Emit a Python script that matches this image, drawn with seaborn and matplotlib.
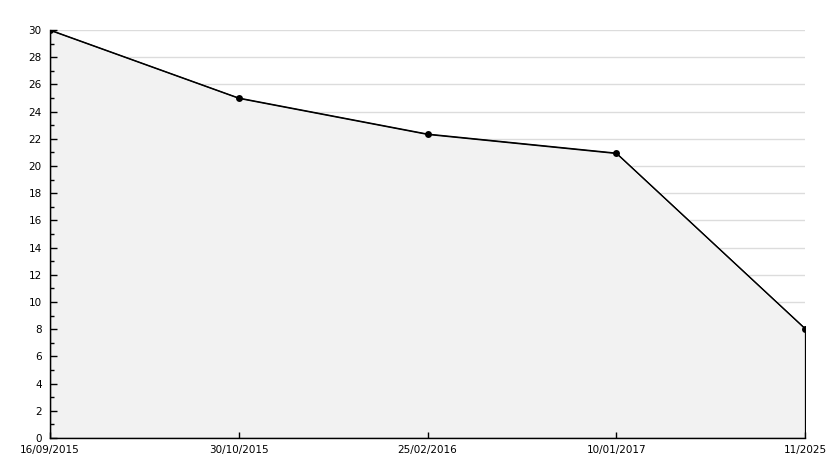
import matplotlib
matplotlib.use("Agg")
import matplotlib.pyplot as plt
import seaborn as sns
import pandas as pd
from matplotlib.ticker import MultipleLocator

dates = ["16/09/2015", "30/10/2015", "25/02/2016", "10/01/2017", "11/2025"]
values = [30, 25, 22.35, 20.95, 8.05]

sns.set_style("white")
plt.rcParams['font.family'] = ['DejaVu Sans']

df = pd.DataFrame({"pos": range(len(dates)), "value": values})

fig = plt.figure(figsize=(8.34, 4.68), dpi=100)
ax = fig.add_axes([50/834, 30/468, 755/834, 408/468])

ax.set_xlim(0, len(dates) - 1)
ax.set_ylim(0, 30)

ax.yaxis.set_major_locator(MultipleLocator(2))
ax.yaxis.set_minor_locator(MultipleLocator(1))
ax.grid(False)
for yv in range(2, 31, 2):
    ax.axhline(yv, color="#dcdcdc", linewidth=1, zorder=1)
ax.set_axisbelow(False)

ax.fill_between(df["pos"], df["value"], 0, facecolor="#f2f2f2",
                edgecolor="black", linewidth=0.9, zorder=2)
sns.lineplot(data=df, x="pos", y="value", ax=ax, color="black",
             linewidth=0.9, marker="o", markersize=5, markeredgewidth=0,
             zorder=3)

ax.set_xticks(df["pos"])
ax.set_xticklabels(dates)
ax.set_xlabel("")
ax.set_ylabel("")

for s in ["top", "right"]:
    ax.spines[s].set_visible(False)
for s in ["left", "bottom"]:
    ax.spines[s].set_color("black")
    ax.spines[s].set_linewidth(1)
    ax.spines[s].set_zorder(4)

ax.tick_params(axis="y", which="major", direction="in", length=5, width=1,
               color="black", labelsize=7.5, pad=6, left=True)
ax.tick_params(axis="y", which="minor", direction="in", length=3, width=1,
               color="black", left=True)
ax.tick_params(axis="x", which="major", direction="in", length=4, width=1,
               color="black", labelsize=7.5, pad=5, bottom=True)
for lab in ax.get_yticklabels():
    lab.set_color("black")
for lab in ax.get_xticklabels():
    lab.set_color("black")

fig.savefig("out.png", dpi=100)
